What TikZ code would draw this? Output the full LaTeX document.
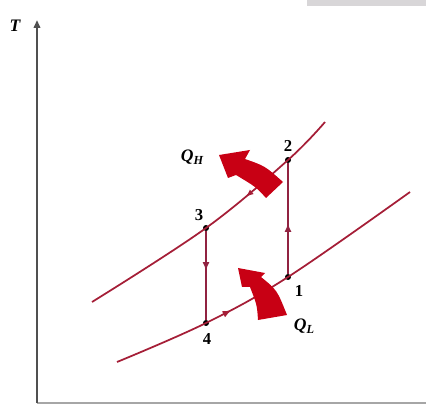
\documentclass[tikz,border=0pt]{standalone}
\usepackage{fontspec}
\setmainfont{Liberation Serif}
\usetikzlibrary{arrows.meta,decorations.markings}
\definecolor{curvecol}{RGB}{165,30,55}
\definecolor{vcol}{RGB}{145,35,65}
\definecolor{bigred}{RGB}{200,0,20}
\definecolor{axcol}{RGB}{80,80,80}
\definecolor{boxgray}{RGB}{216,214,216}
\tikzset{
  dot/.style={circle,fill=black,inner sep=0pt,minimum size=0.12cm},
  lbl/.style={inner sep=0pt,font=\fontsize{9.5}{10}\selectfont\bfseries},
  qlbl/.style={inner sep=0pt,font=\fontsize{10}{11}\selectfont\bfseries\itshape},
  curve/.style={draw=curvecol,line width=0.035cm},
  vline/.style={draw=vcol,line width=0.04cm},
  midarrow/.style={postaction={decorate},decoration={markings,
     mark=at position #1 with {\arrow{Latex[length=0.18cm,width=0.14cm]}}}},
  midarrowrev/.style={postaction={decorate},decoration={markings,
     mark=at position #1 with {\arrowreversed{Latex[length=0.16cm,width=0.12cm]}}}},
  bigarrow/.style={fill=bigred,draw=none},
}
\begin{document}
\begin{tikzpicture}[x=0.02cm,y=-0.02cm]
\useasboundingbox (0,0) rectangle (426,405);
% top-right gray band
\fill[boxgray] (307,0) rectangle (426,6);
% axes
\coordinate (o) at (37,403);
\coordinate (ytop) at (37,20);
\coordinate (xend) at (426,403);
\draw[draw=gray!70,line width=0.03cm] (o) -- (xend);
\draw[draw=axcol,line width=0.04cm,-{Triangle[length=0.16cm,width=0.13cm]}] (o) -- (ytop);
\node[qlbl] (T) at (15,26) {T};
% state points
\node[dot] (p1) at (288,277) {};
\node[dot] (p2) at (288,160) {};
\node[dot] (p3) at (206,228) {};
\node[dot] (p4) at (206,323) {};
\node[lbl] (l1) at (299,291) {1};
\node[lbl] (l2) at (288,146) {2};
\node[lbl] (l3) at (199,215) {3};
\node[lbl] (l4) at (207,339) {4};
% curve end points
\coordinate (uL) at (92,302);
\coordinate (uR) at (325,122);
\coordinate (lL) at (117,362);
\coordinate (lR) at (410,192);
% isotherm curves
\draw[curve,midarrowrev=0.63] plot[smooth,tension=0.6] coordinates {(uL) (p3.center) (p2.center) (uR)};
\draw[curve,midarrow=0.37] plot[smooth,tension=0.6] coordinates {(lL) (p4.center) (p1.center) (lR)};
% vertical processes
\draw[vline,midarrow=0.46] (p1) -- (p2);
\draw[vline,midarrow=0.45] (p3) -- (p4);
% heat arrows (filled curved block arrows)
\fill[bigarrow] (219,155) -- (250,150) -- (245,159)
   .. controls (265,166) .. (283,182) -- (266,198)
   .. controls (256,187) .. (236,175) -- (228,178) -- cycle;
\fill[bigarrow] (238,268) -- (265,273) -- (261,277)
   .. controls (277,290) .. (287,315) -- (258,320)
   .. controls (257,305) .. (250,287) -- (242,287) -- cycle;
\node[qlbl] (QH) at (192,157) {Q\raisebox{-0.35ex}{\fontsize{7}{8}\selectfont H}};
\node[qlbl] (QL) at (304,326) {Q\raisebox{-0.35ex}{\fontsize{7}{8}\selectfont L}};
\end{tikzpicture}
\end{document}
